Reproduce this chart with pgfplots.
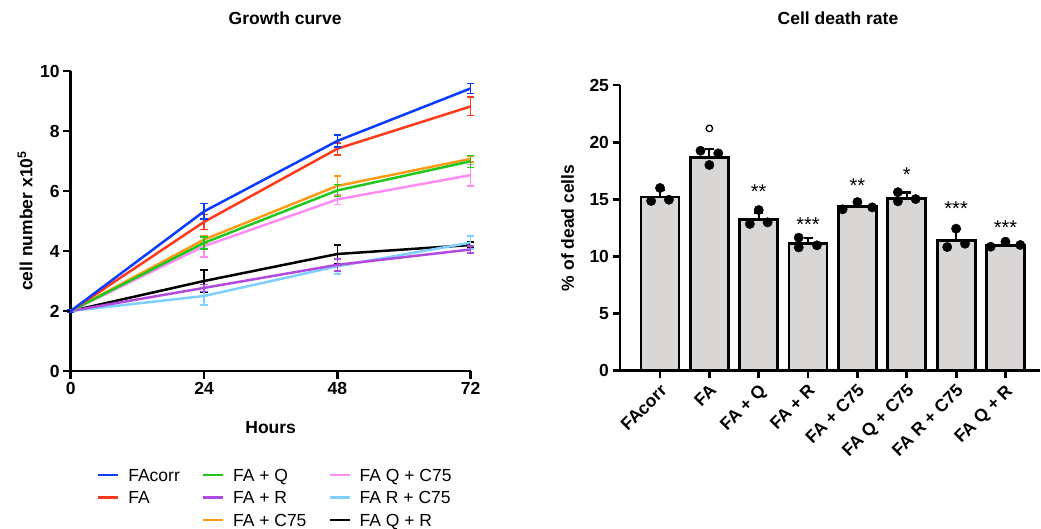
\documentclass[border=0pt]{standalone}
\usepackage{fontspec}
\setmainfont{Liberation Sans}
\usepackage{pgfplots}
\usepackage{pgfplotstable}
\pgfplotsset{compat=1.18}

\definecolor{cFAcorr}{HTML}{0A3CFF}
\definecolor{cFA}{HTML}{FF3A1A}
\definecolor{cQ}{HTML}{1EC81E}
\definecolor{cR}{HTML}{B24AE0}
\definecolor{cC}{HTML}{FF9A14}
\definecolor{cQC}{HTML}{FF8CF4}
\definecolor{cRC}{HTML}{7DD0FF}
\definecolor{cQR}{HTML}{000000}
\definecolor{barfill}{HTML}{D8D7D5}

% growth curves: mean cell number (x10^5) and SD
\pgfplotstableread{
t  m    e
0  2.00 0.05
24 5.32 0.26
48 7.67 0.20
72 9.42 0.17
}\tFAcorr
\pgfplotstableread{
t  m    e
0  2.00 0.05
24 4.97 0.25
48 7.41 0.20
72 8.82 0.31
}\tFA
\pgfplotstableread{
t  m    e
0  2.00 0.05
24 4.27 0.20
48 6.02 0.20
72 6.99 0.20
}\tQ
\pgfplotstableread{
t  m    e
0  2.00 0.05
24 2.77 0.12
48 3.54 0.20
72 4.05 0.12
}\tR
\pgfplotstableread{
t  m    e
0  2.00 0.05
24 4.38 0.12
48 6.17 0.33
72 7.07 0.10
}\tC
\pgfplotstableread{
t  m    e
0  2.00 0.05
24 4.16 0.35
48 5.72 0.17
72 6.53 0.36
}\tQC
\pgfplotstableread{
t  m    e
0  2.00 0.05
24 2.50 0.29
48 3.49 0.25
72 4.28 0.22
}\tRC
\pgfplotstableread{
t  m    e
0  2.00 0.05
24 3.00 0.36
48 3.90 0.31
72 4.20 0.10
}\tQR

% cell death: mean and SD per condition
\pgfplotstableread{
i m     e
0 15.20 0.60
1 18.65 0.75
2 13.20 0.65
3 11.10 0.50
4 14.35 0.35
5 15.10 0.50
6 11.40 1.00
7 10.95 0.25
}\tDeath
% individual replicates
\pgfplotstableread{
x     y
-0.18 14.85
0.00  15.99
0.18  14.96
0.82  19.25
1.00  18.00
1.18  19.02
1.82  12.84
2.00  14.06
2.18  12.98
2.81  11.64
2.81  10.79
3.18  10.97
3.70  14.12
4.00  14.76
4.30  14.29
4.82  15.62
4.82  14.82
5.18  15.02
5.82  10.82
6.00  12.43
6.18  11.11
6.70  10.85
7.00  11.29
7.30  11.00
}\tDots

\newcommand{\fs}{\fontsize{17.5}{21}\selectfont}
\newcommand{\fsig}{\fontsize{20}{24}\selectfont}

\tikzset{sig/.style={anchor=base, inner sep=0pt, font=\fsig}}

\pgfplotsset{
  gp/.style={
    scale only axis,
    clip=false,
    anchor=south west,
    axis lines*=left,
    axis line style={-, line width=2.8pt},
    tick align=outside,
    major tick length=7.5pt,
    every tick/.style={black, line width=2.8pt},
    font=\fs,
    ticklabel style={font=\fs\bfseries},
    /pgf/number format/assume math mode=true,
    label style={font=\fs\bfseries},
    title style={font=\fs\bfseries, anchor=base},
  },
  crv/.style={
    forget plot, #1, line width=2.5pt, no markers,
    error bars/.cd, y dir=both, y explicit,
    error bar style={line width=1.6pt},
    error mark options={rotate=90, mark size=3.6pt, line width=1.6pt, #1},
  },
}

\begin{document}
\begin{tikzpicture}
\useasboundingbox (0pt,0pt) rectangle (1041pt,-529pt);

% ---- growth curve ----
\begin{axis}[gp,
  at={(70.7pt,-371pt)}, width=400pt, height=300pt,
  xmin=0, xmax=72, ymin=0, ymax=10,
  xtick={0,24,48,72}, ytick={0,2,...,10},
  title={Growth curve},
  title style={at={(axis description cs:0.536,1)}, anchor=base, yshift=40.7pt},
  xlabel={Hours},
  xlabel style={at={(axis description cs:0.5,-0.187)}, anchor=center},
  ylabel={cell number x10\textsuperscript{5}},
  ylabel style={at={(axis description cs:-0.114,0.5)}, anchor=center},
  legend columns=3,
  legend cell align=left,
  legend image code/.code={\draw[#1, line width=2.5pt] (0pt,0pt) -- (20pt,0pt);},
  legend style={draw=none, fill=none, font=\fs, inner sep=0pt, outer sep=0pt,
    at={(axis description cs:0.066,-0.325)}, anchor=north west,
    nodes={inner sep=0pt, text height=12.5pt, text depth=0pt},
    row sep=10pt,
    /tikz/every odd column/.style={column sep=8.7pt},
    /tikz/every even column/.style={column sep=22pt}},
]
\addplot[crv=cQR] table[x=t, y=m, y error=e] {\tQR};
\addplot[crv=cRC] table[x=t, y=m, y error=e] {\tRC};
\addplot[crv=cR] table[x=t, y=m, y error=e] {\tR};
\addplot[crv=cQC] table[x=t, y=m, y error=e] {\tQC};
\addplot[crv=cC] table[x=t, y=m, y error=e] {\tC};
\addplot[crv=cQ] table[x=t, y=m, y error=e] {\tQ};
\addplot[crv=cFA] table[x=t, y=m, y error=e] {\tFA};
\addplot[crv=cFAcorr] table[x=t, y=m, y error=e] {\tFAcorr};

\addlegendimage{cFAcorr}\addlegendentry{FAcorr}
\addlegendimage{cQ}\addlegendentry{FA + Q}
\addlegendimage{cQC}\addlegendentry{FA Q + C75}
\addlegendimage{cFA}\addlegendentry{FA}
\addlegendimage{cR}\addlegendentry{FA + R}
\addlegendimage{cRC}\addlegendentry{FA R + C75}
\addlegendimage{empty legend}\addlegendentry{}
\addlegendimage{cC}\addlegendentry{FA + C75}
\addlegendimage{cQR}\addlegendentry{FA Q + R}
\end{axis}

% ---- cell death rate ----
\begin{axis}[gp,
  at={(620pt,-370.7pt)}, width=420pt, height=285.7pt,
  xmin=-0.811, xmax=7.70, ymin=0, ymax=25,
  ytick={0,5,...,25},
  xtick={0,...,7},
  xticklabels={FAcorr, FA, FA + Q, FA + R, FA + C75, FA Q + C75, FA R + C75, FA Q + R},
  xticklabel style={rotate=45, anchor=north east, inner sep=0pt, yshift=-3pt, xshift=-4pt},
  title={Cell death rate},
  title style={at={(axis description cs:0.519,1)}, anchor=base, yshift=54.7pt},
  ylabel={\% of dead cells},
  ylabel style={at={(axis description cs:-0.125,0.5)}, anchor=center},
]
\addplot[ybar, bar width=0.77, fill=barfill, draw=black, line width=2.8pt,
  error bars/.cd, y dir=plus, y explicit,
  error bar style={line width=2.2pt, black},
  error mark options={rotate=90, mark size=4.5pt, line width=2.2pt, black}]
  table[x=i, y=m, y error=e] {\tDeath};
\addplot[only marks, mark=*, mark size=4.7pt, black] table[x=x, y=y] {\tDots};

\node[draw, circle, line width=1.3pt, minimum size=6.5pt, inner sep=0pt] at (axis cs:1,21.2) {};
\node[sig] at (axis cs:2,15.08) {**};
\node[sig] at (axis cs:3,12.21) {***};
\node[sig] at (axis cs:4,15.61) {**};
\node[sig] at (axis cs:5,16.56) {*};
\node[sig] at (axis cs:6,13.58) {***};
\node[sig] at (axis cs:7,11.96) {***};
\end{axis}
\end{tikzpicture}
\end{document}
